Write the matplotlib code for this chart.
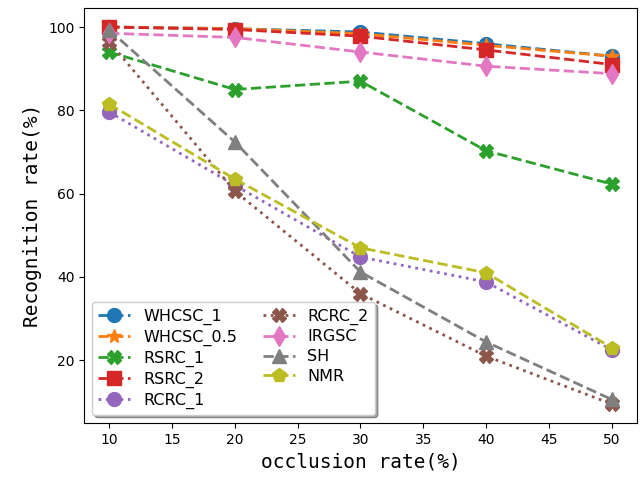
import matplotlib
matplotlib.use("Agg")
import matplotlib.pyplot as plt

x = [10, 20, 30, 40, 50]
names = ["WHCSC_1", "WHCSC_0.5", "RSRC_1", "RSRC_2", "RCRC_1",
         "RCRC_2", "IRGSC", "SH", "NMR"]
whcsc_1 = [100, 99.6, 98.8, 96, 93]
whcsc_05 = [100, 99.6, 98.4, 95.6, 93]
rsrc_1 = [94, 85, 87, 70.3, 62.3]
rsrc_2 = [100, 99.4, 97.8, 94.5, 91]
rcrc_1 = [79.6, 62, 44.8, 38.8, 22.5]
rcrc_2 = [96.5, 60.6, 36, 21, 9.5]
irgsc = [98.5, 97.5, 94, 90.6, 88.8]
sh = [99.3, 72.4, 41.2, 24.4, 10.6]
nmr = [81.5, 63.5, 47, 41, 23]
series = [whcsc_1, whcsc_05, rsrc_1, rsrc_2, rcrc_1, rcrc_2, irgsc, sh, nmr]

colors = ["#1f77b4", "#ff7f0e", "#2ca02c", "#d62728", "#9467bd",
          "#8c564b", "#e377c2", "#7f7f7f", "#bcbd22"]
markers = ["o", "*", "X", "s", "o", "X", "d", "^", "p"]
styles = ["--", "--", "--", "--", ":", ":", "--", "--", "--"]

fig = plt.figure(figsize=(6.42, 4.8), dpi=100)
ax = fig.add_axes([0.131, 0.119, 0.861, 0.864])
for name, ys, c, m, ls in zip(names, series, colors, markers, styles):
    ax.plot(x, ys, linestyle=ls, color=c, marker=m, markersize=10,
            linewidth=2, label=name)

ax.set_yticks([20, 40, 60, 80, 100])
ax.tick_params(labelsize=10)
ax.set_xlabel("occlusion rate(%)", fontsize=14, family="DejaVu Sans Mono")
ax.set_ylabel("Recognition rate(%)", fontsize=14, family="DejaVu Sans Mono")
ax.legend(loc="lower left", ncol=2, fontsize=11.5, shadow=True,
          labelspacing=0.3, columnspacing=1.6)
fig.savefig("out.png", dpi=100)
